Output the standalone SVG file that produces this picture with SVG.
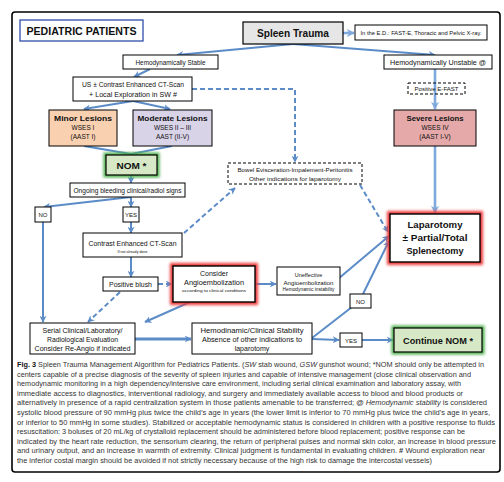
<svg xmlns="http://www.w3.org/2000/svg" width="504" height="482" viewBox="0 0 504 482">
<defs>
<marker id="ah" viewBox="0 0 10 10" refX="9" refY="5" markerWidth="7" markerHeight="7" markerUnits="userSpaceOnUse" orient="auto">
<path d="M0,0 L10,5 L0,10 L3,5 z" fill="#5b8cc8"/>
</marker>
<marker id="ahl" viewBox="0 0 10 10" refX="9" refY="5" markerWidth="8" markerHeight="8" markerUnits="userSpaceOnUse" orient="auto">
<path d="M0,0 L10,5 L0,10 L3,5 z" fill="#7fa9dc"/>
</marker>
<filter id="blur" x="-20%" y="-20%" width="140%" height="140%"><feGaussianBlur stdDeviation="1.6"/></filter>
<style>
.bx{fill:#fff;stroke:#000;stroke-width:1}
.dbx{fill:none;stroke:#000;stroke-width:1;stroke-dasharray:3,2}
.t{font-family:"Liberation Sans",Arial,sans-serif;fill:#111;text-anchor:middle}
.b{font-weight:bold}
.ln{fill:none;stroke:#5b8cc8;stroke-width:2;marker-end:url(#ah)}
.lt{fill:none;stroke:#7fa9dc;stroke-width:2.6;marker-end:url(#ahl)}
.dl{fill:none;stroke:#5b8cc8;stroke-width:2;stroke-dasharray:5,3}
.cap{font-family:"Liberation Sans",Arial,sans-serif;font-size:7px;fill:#333}
</style>
</defs>
<rect width="504" height="482" fill="#fff"/>
<rect x="12" y="12" width="488" height="460" rx="3" fill="none" stroke="#000" stroke-width="1.6"/>

<g id="title"><rect x="20" y="20" width="123" height="21" fill="#fff" stroke="#2e4fa8" stroke-width="1.3"/><text class="t b" x="81.5" y="35" font-size="10.5" textLength="110" lengthAdjust="spacingAndGlyphs">PEDIATRIC PATIENTS</text></g>

<g id="connectors">
<path class="ln" d="M293,44 L177,55"/>
<path class="ln" d="M293,44 L435,55"/>
<path class="lt" d="M343,33 L354,33"/>
<path class="ln" d="M150,69 L134,77"/>
<path class="ln" d="M133,101 L84,109"/>
<path class="ln" d="M133,101 L170,109"/>
<path class="ln" d="M84,146 L131,154 M172,146 L131,154" style="marker-end:none"/>
<path class="ln" d="M131,175 L131,183"/>
<path class="ln" d="M131,197 L44,207"/>
<path class="ln" d="M131,197 L131,207"/>
<path class="ln" d="M43,222 L43,322"/>
<path class="ln" d="M131,222 L131,233"/>
<path class="ln" d="M131,257 L131,277"/>
<path class="dl" d="M184,233 L235,188" marker-end="url(#ah)"/>
<path class="dl" d="M192,89 L295,89 L295,162" marker-end="url(#ah)"/>
<path class="dl" d="M360,185 L388,232" marker-end="url(#ah)"/>
<path class="lt" d="M435,69 L435,109"/>
<path class="lt" d="M435,146 L435,213"/>
<path class="dl" d="M158,284 L172,284" marker-end="url(#ah)"/>
<path class="dl" d="M120,292 L88,322" marker-end="url(#ah)"/>
<path class="ln" d="M190,302 L145,322"/>
<path class="ln" d="M255,284 L276,284"/>
<path class="ln" d="M338,279 L389,236"/>
<path class="ln" d="M135,339 L191,339" style="stroke-width:3"/>
<path class="ln" d="M312,338 L352,307" style="marker-end:none"/>
<path class="ln" d="M363,294 L389,241"/>
<path class="ln" d="M312,339 L339,340"/>
<path class="ln" d="M362,340 L393,340"/>
</g>

<g id="spleen"><rect x="243" y="22" width="100" height="22" fill="#e6e6e6" stroke="#000" stroke-width="1.2"/><text class="t b" x="293" y="37" font-size="10.5" textLength="72" lengthAdjust="spacingAndGlyphs">Spleen Trauma</text></g>
<g id="ed"><rect class="bx" x="355" y="25" width="132" height="15"/><text class="t" x="421" y="35" font-size="5.2" textLength="121" lengthAdjust="spacingAndGlyphs">In the E.D.: FAST-E, Thoracic and Pelvic X-ray.</text></g>
<g id="stable"><rect class="bx" x="123" y="55" width="95" height="14"/><text class="t" x="170.5" y="64.5" font-size="7" textLength="70" lengthAdjust="spacingAndGlyphs">Hemodynamically Stable</text></g>
<g id="unstable"><rect class="bx" x="384" y="55" width="108" height="14"/><text class="t" x="438" y="64.5" font-size="7" textLength="96" lengthAdjust="spacingAndGlyphs">Hemodynamically Unstable @</text></g>
<g id="us"><rect class="bx" x="73" y="77" width="119" height="24"/><text class="t" x="133" y="87" font-size="6.8" textLength="102" lengthAdjust="spacingAndGlyphs">US ± Contrast Enhanced CT-Scan</text><text class="t" x="133" y="96.5" font-size="6.8" textLength="88" lengthAdjust="spacingAndGlyphs">+ Local Exploration in SW #</text></g>
<g id="efast"><rect class="dbx" x="408" y="83" width="57" height="11"/><text class="t" x="436.5" y="91" font-size="5.5" textLength="44" lengthAdjust="spacingAndGlyphs">Positive E-FAST</text></g>
<g id="minor"><rect x="49" y="110" width="68" height="36" fill="#f9d0b0" stroke="#000" stroke-width="1"/><text class="t b" x="83" y="121" font-size="8" textLength="58" lengthAdjust="spacingAndGlyphs">Minor Lesions</text><text class="t" x="83" y="130" font-size="6.5">WSES I</text><text class="t" x="83" y="139" font-size="6.5">(AAST I)</text></g>
<g id="moderate"><rect x="133" y="110" width="79" height="36" fill="#d9d3e8" stroke="#000" stroke-width="1"/><text class="t b" x="172.5" y="121" font-size="8" textLength="70" lengthAdjust="spacingAndGlyphs">Moderate Lesions</text><text class="t" x="172.5" y="130" font-size="6.5">WSES II – III</text><text class="t" x="172.5" y="139" font-size="6.5">AAST (II-V)</text></g>
<g id="severe"><rect x="394" y="110" width="82" height="36" fill="#e5a9a9" stroke="#000" stroke-width="1"/><text class="t b" x="435" y="121" font-size="8" textLength="57" lengthAdjust="spacingAndGlyphs">Severe Lesions</text><text class="t" x="435" y="130" font-size="6.5">WSES IV</text><text class="t" x="435" y="139" font-size="6.5">(AAST I-V)</text></g>
<g id="nom"><rect x="106" y="155" width="51" height="20" fill="none" stroke="#4caf4c" stroke-width="5" filter="url(#blur)"/><rect x="106" y="155" width="51" height="20" fill="#d6e8c6" stroke="#000" stroke-width="1.2"/><text class="t b" x="131.5" y="168.5" font-size="9" textLength="30" lengthAdjust="spacingAndGlyphs">NOM *</text></g>
<g id="ongoing"><rect class="bx" x="70" y="183" width="115" height="14"/><text class="t" x="127.5" y="192.5" font-size="6.8" textLength="108" lengthAdjust="spacingAndGlyphs">Ongoing bleeding clinical/radiol signs</text></g>
<g id="bowel"><rect class="dbx" x="228" y="163" width="134" height="21" style="fill:#fff"/><text class="t" x="295" y="172" font-size="5.6" textLength="115" lengthAdjust="spacingAndGlyphs">Bowel Evisceration-Impalement-Peritonitis</text><text class="t" x="295" y="180.5" font-size="5.6" textLength="92" lengthAdjust="spacingAndGlyphs">Other indications for laparotomy</text></g>
<g id="no1"><rect class="bx" x="35" y="207" width="16" height="15"/><text class="t" x="43" y="217" font-size="6">NO</text></g>
<g id="yes1"><rect class="bx" x="123" y="207" width="16" height="15"/><text class="t" x="131" y="217" font-size="6">YES</text></g>
<g id="laparotomy"><rect x="390" y="214" width="90" height="48" fill="none" stroke="#ee3b3b" stroke-width="6" filter="url(#blur)"/><rect x="390" y="214" width="90" height="48" fill="#fff" stroke="#000" stroke-width="1.4"/><text class="t b" x="435" y="228" font-size="9.5" textLength="55" lengthAdjust="spacingAndGlyphs">Laparotomy</text><text class="t b" x="435" y="241" font-size="9.5" textLength="65" lengthAdjust="spacingAndGlyphs">± Partial/Total</text><text class="t b" x="435" y="254" font-size="9.5" textLength="57" lengthAdjust="spacingAndGlyphs">Splenectomy</text></g>
<g id="contrast"><rect class="bx" x="83" y="233" width="99" height="24"/><text class="t" x="132.5" y="246" font-size="7" textLength="88" lengthAdjust="spacingAndGlyphs">Contrast Enhanced CT-Scan</text><text class="t" x="132.5" y="253" font-size="3.8" textLength="30" lengthAdjust="spacingAndGlyphs">If not already done</text></g>
<g id="blush"><rect class="bx" x="103" y="277" width="55" height="14"/><text class="t" x="130.5" y="286.5" font-size="7" textLength="43" lengthAdjust="spacingAndGlyphs">Positive blush</text></g>
<g id="angio"><rect x="173" y="266" width="82" height="36" fill="none" stroke="#ee3b3b" stroke-width="6" filter="url(#blur)"/><rect x="173" y="266" width="82" height="36" fill="#fff" stroke="#000" stroke-width="1.4"/><text class="t" x="214" y="276" font-size="7">Consider</text><text class="t" x="214" y="285" font-size="7.2" textLength="60" lengthAdjust="spacingAndGlyphs">Angioembolization</text><text class="t" x="214" y="292" font-size="3.8" textLength="64" lengthAdjust="spacingAndGlyphs">according to clinical conditions</text></g>
<g id="uneffective"><rect class="bx" x="277" y="267" width="63" height="28"/><text class="t" x="308.5" y="277" font-size="5.5">Uneffective</text><text class="t" x="308.5" y="284.5" font-size="5.6" textLength="50" lengthAdjust="spacingAndGlyphs">Angioembolization</text><text class="t" x="308.5" y="291" font-size="4.6" textLength="52" lengthAdjust="spacingAndGlyphs">Hemodynamic instability</text></g>
<g id="no2"><rect class="bx" x="350" y="294" width="21" height="14"/><text class="t" x="360.5" y="303.5" font-size="6">NO</text></g>
<g id="serial"><rect class="bx" x="30" y="323" width="105" height="31"/><text class="t" x="82.5" y="332.5" font-size="7" textLength="80" lengthAdjust="spacingAndGlyphs">Serial Clinical/Laboratory/</text><text class="t" x="82.5" y="341.5" font-size="7" textLength="71" lengthAdjust="spacingAndGlyphs">Radiological Evaluation</text><text class="t" x="82.5" y="350.5" font-size="7" textLength="96" lengthAdjust="spacingAndGlyphs">Consider Re-Angio if indicated</text></g>
<g id="hemodinamic"><rect class="bx" x="192" y="323" width="120" height="31"/><text class="t" x="252" y="333" font-size="7" textLength="103" lengthAdjust="spacingAndGlyphs">Hemodinamic/Clinical Stability</text><text class="t" x="252" y="342" font-size="7" textLength="100" lengthAdjust="spacingAndGlyphs">Absence of other indications to</text><text class="t" x="252" y="351" font-size="7">laparotomy</text></g>
<g id="yes2"><rect class="bx" x="340" y="333" width="22" height="14"/><text class="t" x="351" y="342.5" font-size="6">YES</text></g>
<g id="continue"><rect x="394" y="328" width="88" height="24" fill="none" stroke="#4caf4c" stroke-width="5" filter="url(#blur)"/><rect x="394" y="328" width="88" height="24" fill="#d6e8c6" stroke="#000" stroke-width="1.2"/><text class="t b" x="438" y="343.5" font-size="9.5" textLength="70" lengthAdjust="spacingAndGlyphs">Continue NOM *</text></g>

<g id="caption">
<text class="cap" x="17" y="367" textLength="467" lengthAdjust="spacingAndGlyphs"><tspan font-weight="bold" fill="#111">Fig. 3</tspan> Spleen Trauma Management Algorithm for Pediatrics Patients. (<tspan font-style="italic">SW</tspan> stab wound, <tspan font-style="italic">GSW</tspan> gunshot wound; *NOM should only be attempted in</text>
<text class="cap" x="17" y="376.6" textLength="454" lengthAdjust="spacingAndGlyphs">centers capable of a precise diagnosis of the severity of spleen injuries and capable of intensive management (close clinical observation and</text>
<text class="cap" x="17" y="386.2" textLength="444" lengthAdjust="spacingAndGlyphs">hemodynamic monitoring in a high dependency/intensive care environment, including serial clinical examination and laboratory assay, with</text>
<text class="cap" x="17" y="395.8" textLength="446" lengthAdjust="spacingAndGlyphs">immediate access to diagnostics, interventional radiology, and surgery and immediately available access to blood and blood products or</text>
<text class="cap" x="17" y="405.4" textLength="470" lengthAdjust="spacingAndGlyphs">alternatively in presence of a rapid centralization system in those patients amenable to be transferred; <tspan font-weight="bold">@</tspan> <tspan font-style="italic">Hemodynamic stability</tspan> is considered</text>
<text class="cap" x="17" y="415" textLength="473" lengthAdjust="spacingAndGlyphs">systolic blood pressure of 90 mmHg plus twice the child’s age in years (the lower limit is inferior to 70 mmHg plus twice the child’s age in years,</text>
<text class="cap" x="17" y="424.6" textLength="478" lengthAdjust="spacingAndGlyphs">or inferior to 50 mmHg in some studies). Stabilized or acceptable hemodynamic status is considered in children with a positive response to fluids</text>
<text class="cap" x="17" y="434.2" textLength="448" lengthAdjust="spacingAndGlyphs">resuscitation: 3 boluses of 20 mL/kg of crystalloid replacement should be administered before blood replacement; positive response can be</text>
<text class="cap" x="17" y="443.8" textLength="479" lengthAdjust="spacingAndGlyphs">indicated by the heart rate reduction, the sensorium clearing, the return of peripheral pulses and normal skin color, an increase in blood pressure</text>
<text class="cap" x="17" y="453.4" textLength="468" lengthAdjust="spacingAndGlyphs">and urinary output, and an increase in warmth of extremity. Clinical judgment is fundamental in evaluating children. <tspan font-weight="bold">#</tspan> Wound exploration near</text>
<text class="cap" x="17" y="463" textLength="415" lengthAdjust="spacingAndGlyphs">the inferior costal margin should be avoided if not strictly necessary because of the high risk to damage the intercostal vessels)</text>
</g>
</svg>
